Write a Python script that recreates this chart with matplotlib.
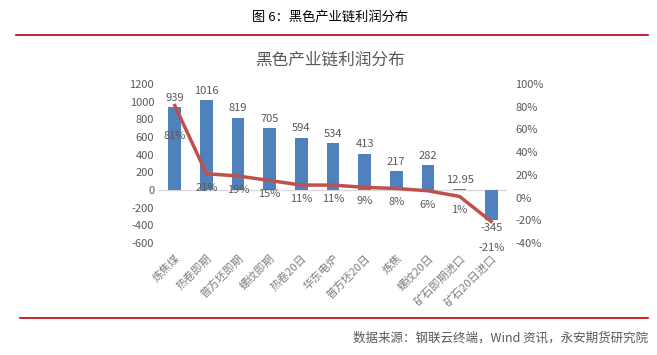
import matplotlib.pyplot as plt
from matplotlib.lines import Line2D

plt.rcParams['font.family'] = ['Noto Sans CJK SC', 'DejaVu Sans']
plt.rcParams['axes.unicode_minus'] = False

categories = ['炼焦煤', '热卷即期', '普方坯即期', '螺纹即期', '热卷20日', '华东电炉',
              '普方坯20日', '炼焦', '螺纹20日', '矿石即期进口', '矿石20日进口']
profit = [939, 1016, 819, 705, 594, 534, 413, 217, 282, 12.95, -345]
profit_labels = ['939', '1016', '819', '705', '594', '534', '413', '217', '282', '12.95', '-345']
margin = [81, 21, 19, 15, 11, 11, 9, 8, 6, 1, -21]

gray = '#595959'
fig = plt.figure(figsize=(6.57, 3.55), dpi=100)
W, H = 657, 355

# page header / footer
fig.text(330 / W, 1 - 17 / H, '图 6：黑色产业链利润分布', ha='center', va='center', fontsize=9.5, color='black')
fig.add_artist(Line2D([16 / W, 648 / W], [1 - 35 / H] * 2, color='#A50021', lw=1.2))
fig.add_artist(Line2D([20 / W, 648 / W], [1 - 318 / H] * 2, color='#C00000', lw=1.2))
fig.text(648 / W, 1 - 338 / H, '数据来源：钢联云终端，Wind 资讯，永安期货研究院', ha='right', va='center',
         fontsize=9, color=gray)
fig.text(330 / W, 1 - 60 / H, '黑色产业链利润分布', ha='center', va='center', fontsize=12, color=gray)

ax = fig.add_axes([159 / W, 1 - 243 / H, (507 - 159) / W, (243 - 84) / H])
x = list(range(len(categories)))
ax.bar(x, profit, width=0.4, color='#4F81BD', zorder=2)
ax.axhline(0, color='#D9D9D9', lw=1, zorder=1)
ax.set_xlim(-0.5, len(categories) - 0.5)
ax.set_ylim(-600, 1200)
ax.set_yticks(range(-600, 1201, 200))
ax.set_xticks(x)
ax.set_xticklabels(categories, rotation=45, ha='right', rotation_mode='anchor', fontsize=8, color='#7F7F7F')
ax.tick_params(axis='y', length=0, labelsize=8, labelcolor=gray)
ax.tick_params(axis='x', length=0, pad=7)
for s in ax.spines.values():
    s.set_visible(False)
for xi, v, t in zip(x, profit, profit_labels):
    if v >= 0:
        ax.annotate(t, (xi, v), xytext=(0, 3), textcoords='offset points', ha='center', va='bottom',
                    fontsize=8, color=gray)
    else:
        ax.annotate(t, (xi, v), xytext=(0, -2), textcoords='offset points', ha='center', va='top',
                    fontsize=8, color=gray)

ax2 = ax.twinx()
ax2.plot(x, margin, color='#C0504D', lw=2.5, zorder=3)
ax2.set_ylim(-40, 100)
ax2.set_yticks(range(-40, 101, 20))
ax2.set_yticklabels([f'{v}%' for v in range(-40, 101, 20)])
ax2.tick_params(axis='y', length=0, labelsize=8, labelcolor=gray, pad=6)
for s in ax2.spines.values():
    s.set_visible(False)
offsets = [-22, -10, -10, -10, -10, -10, -10, -10, -10, -10, -19]
for xi, m, off in zip(x, margin, offsets):
    ax2.annotate(f'{m}%', (xi, m), xytext=(0, off), textcoords='offset points', ha='center', va='center',
                 fontsize=8, color=gray)

fig.savefig('out.png', dpi=100)
